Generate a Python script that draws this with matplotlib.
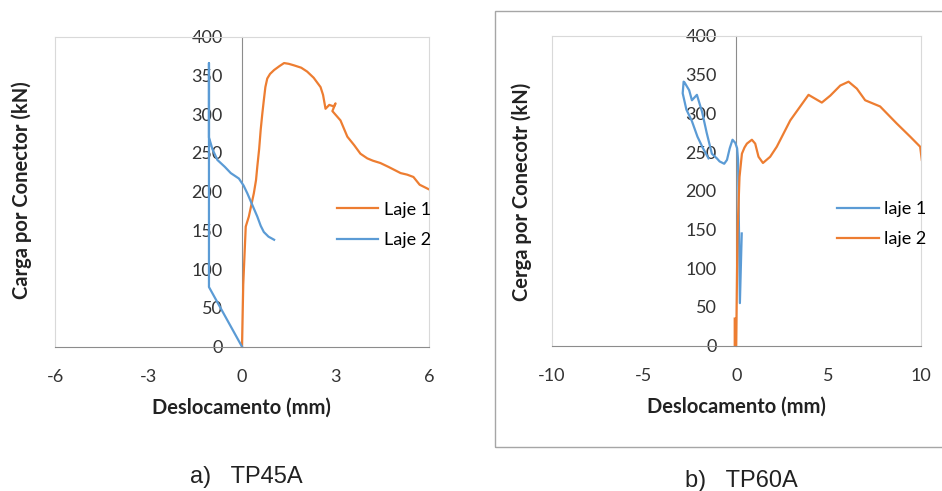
import numpy as np
import matplotlib
matplotlib.use('Agg')
import matplotlib.pyplot as plt
from matplotlib.patches import Rectangle

plt.rcParams['font.family'] = ['Lato', 'DejaVu Sans']
plt.rcParams['axes.unicode_minus'] = False

ORANGE = '#ED7D31'
BLUE = '#5B9BD5'

# TP45A - load vs slip per slab
tp45_laje1_x = [0.0, 0.04, 0.12, 0.22, 0.38, 0.45, 0.49, 0.55, 0.6, 0.65, 0.7, 0.75, 0.81, 0.9, 1.03,
                1.2, 1.35, 1.5, 1.67, 1.9, 2.09, 2.3, 2.52, 2.6, 2.68, 2.8, 2.95, 3.0, 2.9, 3.16, 3.38,
                3.6, 3.8, 4.02, 4.2, 4.44, 4.7, 5.09, 5.3, 5.5, 5.7, 5.85, 6.05]
tp45_laje1_y = [0, 80, 155, 168, 198, 215, 232, 255, 280, 300, 318, 335, 346, 352, 357,
                362, 366, 365, 363, 360, 355, 347, 335, 325, 307, 312, 310, 314, 304, 292, 271,
                260, 249, 243, 240, 237, 232, 224, 222, 219, 209, 206, 202]

tp45_laje2_x = [0.0, -1.06, -1.06, -1.06, -0.95, -0.79, -0.55, -0.36, -0.1, 0.05, 0.17, 0.33, 0.49,
                0.6, 0.7, 0.85, 1.03]
tp45_laje2_y = [0, 77, 366, 270, 255, 241, 232, 224, 217, 208, 198, 183, 168, 156, 148, 142, 138]

# TP60A - load vs slip per slab
tp60_laje1_x = [0.3, 0.2, 0.15, 0.1, 0.05, -0.05, -0.2, -0.35, -0.5, -0.65, -0.9, -1.05, -1.32,
                -1.6, -1.85, -2.13, -2.4, -2.55, -2.8, -2.85, -2.9, -2.7, -2.4, -2.1, -1.8, -1.5]
tp60_laje1_y = [145, 55, 150, 240, 255, 262, 266, 255, 240, 235, 238, 242, 248,
                275, 302, 324, 317, 330, 340, 341, 326, 305, 290, 270, 255, 242]

tp60_laje2_x = [-0.08, -0.08, 0.0, 0.07, 0.18, 0.31, 0.45, 0.58, 0.85, 1.03, 1.21, 1.45, 1.84, 2.2,
                2.93, 3.47, 3.92, 4.28, 4.64, 5.1, 5.64, 6.09, 6.54, 6.99, 7.8, 8.7, 9.43, 9.97, 10.06]
tp60_laje2_y = [35, 0, 0, 145, 218, 248, 256, 261, 266, 261, 244, 236, 244, 257,
                291, 309, 324, 319, 314, 323, 336, 341, 332, 317, 309, 287, 270, 257, 240]

W, H = 942, 491
fig = plt.figure(figsize=(W / 100, H / 100), dpi=100)


def style_axes(ax, xlim, xticks):
    ax.set_xlim(*xlim)
    ax.set_ylim(0, 400)
    ax.set_xticks(xticks)
    ax.set_yticks([])
    for s in ['top', 'right', 'left']:
        ax.spines[s].set_color('#D9D9D9')
    ax.spines['bottom'].set_color('#8C8C8C')
    ax.tick_params(axis='x', length=0, pad=16, labelsize=13, colors='#333333')
    # value axis crosses at x = 0 (middle of the symmetric x range)
    sec = ax.secondary_yaxis(0.5)
    sec.yaxis.set_ticks_position('left')
    sec.set_yticks(range(0, 401, 50))
    for s in sec.spines.values():
        s.set_color('#8C8C8C')
    sec.set_zorder(0.5)
    sec.tick_params(axis='y', length=0, pad=14, labelsize=13, colors='#333333',
                    labelleft=True, labelright=False)


# left: TP45A
ax1 = fig.add_axes([55 / W, 1 - 346.7 / H, 374 / W, 310 / H])
ax1.plot(tp45_laje1_x, tp45_laje1_y, color=ORANGE, lw=1.6, label='Laje 1')
ax1.plot(tp45_laje2_x, tp45_laje2_y, color=BLUE, lw=1.6, label='Laje 2')
style_axes(ax1, (-6, 6), [-6, -3, 0, 3, 6])
ax1.legend(loc='upper left', bbox_to_anchor=(0.71, 0.52), frameon=False, fontsize=13,
           handlelength=2.3, handletextpad=0.3, labelspacing=0.8)

# right: TP60A
ax2 = fig.add_axes([551.7 / W, 1 - 345.7 / H, 369 / W, 309.7 / H])
ax2.plot(tp60_laje1_x, tp60_laje1_y, color=BLUE, lw=1.6, label='laje 1')
ax2.plot(tp60_laje2_x, tp60_laje2_y, color=ORANGE, lw=1.6, label='laje 2')
style_axes(ax2, (-10, 10), [-10, -5, 0, 5, 10])
ax2.legend(loc='upper left', bbox_to_anchor=(0.73, 0.52), frameon=False, fontsize=13,
           handlelength=2.3, handletextpad=0.3, labelspacing=0.8)

# axis titles
fig.text(241 / W, 1 - 408 / H, 'Deslocamento (mm)', ha='center', va='center',
         fontsize=14.5, fontweight='bold', color='#222222')
fig.text(736 / W, 1 - 407 / H, 'Deslocamento (mm)', ha='center', va='center',
         fontsize=14.5, fontweight='bold', color='#222222')
fig.text(22 / W, 1 - 190 / H, 'Carga por Conector (kN)', ha='center', va='center',
         rotation=90, fontsize=14.5, fontweight='bold', color='#222222')
fig.text(522 / W, 1 - 192 / H, 'Cerga por Conecotr (kN)', ha='center', va='center',
         rotation=90, fontsize=14.5, fontweight='bold', color='#222222')

# captions
fig.text(190 / W, 1 - 483 / H, 'a)   TP45A', ha='left', va='baseline', fontsize=17,
         family='Liberation Sans', color='#222222')
fig.text(685 / W, 1 - 487 / H, 'b)   TP60A', ha='left', va='baseline', fontsize=17,
         family='Liberation Sans', color='#222222')

# frame around the second chart
fig.patches.append(Rectangle((495 / W, 1 - 447 / H), 460 / W, 436 / H,
                             transform=fig.transFigure, fill=False, edgecolor='#A6A6A6', lw=1))

fig.savefig('out.png', dpi=100)
